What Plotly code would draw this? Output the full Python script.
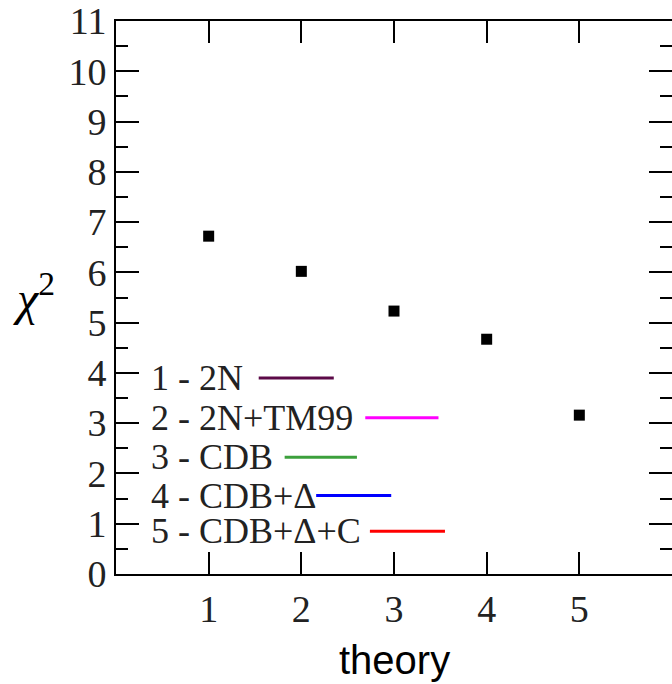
import plotly.graph_objects as go

# ---- data ----
theory = [1, 2, 3, 4, 5]
chi2 = [6.72, 6.02, 5.23, 4.67, 3.16]
legend_labels = ["1 - 2N", "2 - 2N+TM99", "3 - CDB", "4 - CDB+Δ", "5 - CDB+Δ+C"]
legend_colors = ["#5c0a48", "#ff00ff", "#3ca03c", "#0000ff", "#ff0000"]
x_ticks = [1, 2, 3, 4, 5]

# ---- legend layout (positions in data units) ----
legend_text_x = 0.36
legend_y = [3.9, 3.11, 2.32, 1.56, 0.85]
legend_line_x0 = [1.54, 2.69, 1.82, 2.16, 2.74]
legend_line_x1 = [2.35, 3.48, 2.60, 2.97, 3.55]

SERIF = "Liberation Serif"
SANS = "Liberation Sans"

fig = go.Figure()
fig.add_trace(go.Scatter(
    x=theory, y=chi2, mode="markers",
    marker=dict(symbol="square", size=11, color="black"),
    showlegend=False, cliponaxis=False,
))
fig.add_trace(go.Scatter(x=[None], y=[None], yaxis="y2", showlegend=False))

for lab, col, yy, x0, x1 in zip(legend_labels, legend_colors, legend_y, legend_line_x0, legend_line_x1):
    fig.add_annotation(x=legend_text_x, y=yy, xref="x", yref="y", text=lab,
                       showarrow=False, xanchor="left", yanchor="middle",
                       font=dict(family=SERIF, size=36, color="#222"))
    fig.add_shape(type="line", xref="x", yref="y", x0=x0, x1=x1, y0=yy, y1=yy,
                  line=dict(color=col, width=3))

fig.add_annotation(xref="paper", yref="paper", x=0.5, y=-0.155, text="theory",
                   showarrow=False, xanchor="center", yanchor="middle",
                   font=dict(family=SANS, size=40, color="black"))
fig.add_annotation(xref="paper", yref="paper", x=-0.148, y=0.505, text="<i>χ</i><sup>2</sup>",
                   showarrow=False, xanchor="center", yanchor="middle",
                   font=dict(family=SERIF, size=48, color="black"))

fig.update_layout(
    width=672, height=684,
    margin=dict(l=116, r=0, t=18, b=110),
    plot_bgcolor="white", paper_bgcolor="white",
    showlegend=False,
    xaxis=dict(range=[0, 6], tickvals=x_ticks, ticks="inside", ticklen=22, tickwidth=2,
               tickcolor="black", showline=True, linecolor="black", linewidth=2,
               mirror="ticks", showgrid=False, zeroline=False, ticklabeloverflow="allow",
               tickfont=dict(family=SERIF, size=38, color="#222")),
    yaxis=dict(range=[0, 11], dtick=1, ticks="inside", ticklen=23, tickwidth=2,
               tickcolor="black", showline=True, linecolor="black", linewidth=2,
               showgrid=False, zeroline=False, ticklabeloverflow="allow",
               minor=dict(dtick=0.5, ticks="inside", ticklen=12, tickwidth=2, tickcolor="black"),
               tickfont=dict(family=SERIF, size=38, color="#222")),
    yaxis2=dict(range=[0, 11], dtick=1, overlaying="y", side="right", ticks="inside",
                ticklen=23, tickwidth=2, tickcolor="black", showline=False,
                showticklabels=False, showgrid=False, zeroline=False,
                minor=dict(dtick=0.5, ticks="inside", ticklen=12, tickwidth=2, tickcolor="black")),
)

fig.write_html("out.html", config={"displayModeBar": False},
               post_script="document.body.style.margin='0px';document.body.style.overflow='hidden';")
